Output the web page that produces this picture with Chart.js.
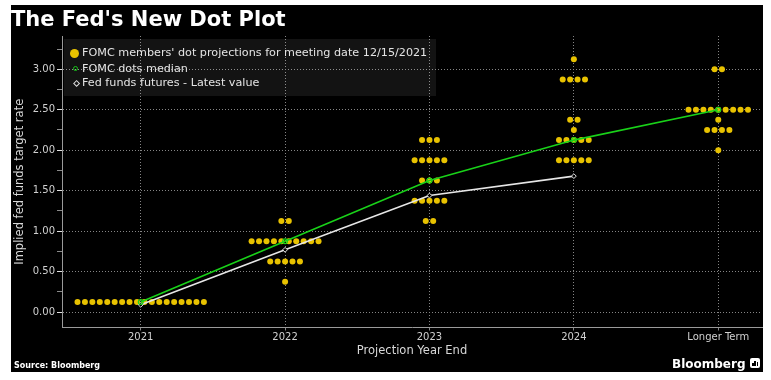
<!DOCTYPE html>
<html><head><meta charset="utf-8">
<script src="https://cdn.jsdelivr.net/npm/chart.js@4.4.1/dist/chart.umd.min.js"></script>
<style>
html,body{margin:0;padding:0;background:#fff;width:771px;height:380px;overflow:hidden;}
#frame{position:absolute;left:11px;top:5px;width:752px;height:367px;background:#000;}
#wrap{position:absolute;left:0;top:0;width:771px;height:380px;}
#title{position:absolute;left:11px;top:9px;font:bold 21px "DejaVu Sans",sans-serif;line-height:21px;color:#fff;white-space:nowrap;}
#legend{position:absolute;left:64px;top:39px;width:372px;height:57px;background:rgba(255,255,255,0.075);}
.row{position:absolute;left:18px;font:11.2px "DejaVu Sans",sans-serif;line-height:14px;color:#e4e4e4;white-space:nowrap;}
.mk{position:absolute;}
#src{position:absolute;left:14px;top:361px;font:bold 8px "DejaVu Sans",sans-serif;line-height:10px;color:#fff;white-space:nowrap;}
#logo{position:absolute;left:672px;top:356px;font:bold 12px "DejaVu Sans",sans-serif;line-height:16px;color:#fff;white-space:nowrap;}
#icon{position:absolute;left:750px;top:358px;width:10px;height:10px;background:#fff;border-radius:2px;}
#icon i{position:absolute;bottom:2px;width:1.5px;background:#000;}
</style>
</head><body>
<div id="frame"></div>
<div id="wrap"><canvas id="c"></canvas></div>
<div id="title">The Fed's New Dot Plot</div>
<div id="legend">
  <div class="mk" style="left:6px;top:9.5px;width:9px;height:9px;border-radius:50%;background:#e8c200;"></div>
  <div class="mk" style="left:8.7px;top:26.5px;width:3.6px;height:3.6px;border-radius:50%;border:1.2px solid #19c419;"></div>
  <div class="mk" style="left:9.6px;top:41.6px;width:3.2px;height:3.2px;transform:rotate(45deg);border:1px solid #ddd;"></div>
  <div class="row" style="top:7px;">FOMC members' dot projections for meeting date 12/15/2021</div>
  <div class="row" style="top:22.5px;">FOMC dots median</div>
  <div class="row" style="top:36.5px;">Fed funds futures - Latest value</div>
</div>
<div id="src">Source: Bloomberg</div>
<div id="logo">Bloomberg</div>
<div id="icon"><i style="left:2px;height:3px"></i><i style="left:4.3px;height:5px"></i><i style="left:6.6px;height:4px"></i></div>
<script>
const categories = ['2021', '2022', '2023', '2024', 'Longer Term'];
// [rate, number of participants]
const dots2021 = [[0.125, 18]];
const dots2022 = [[1.125, 2], [0.875, 10], [0.625, 5], [0.375, 1]];
const dots2023 = [[2.125, 3], [1.875, 5], [1.625, 3], [1.375, 5], [1.125, 2]];
const dots2024 = [[3.125, 1], [2.875, 4], [2.375, 2], [2.25, 1], [2.125, 5], [1.875, 5]];
const dotsLonger = [[3.0, 2], [2.5, 9], [2.375, 1], [2.25, 4], [2.0, 1]];
const dotRows = [dots2021, dots2022, dots2023, dots2024, dotsLonger];
const medians = [0.125, 0.875, 1.625, 2.125, 2.5];
const futures = [0.09, 0.77, 1.44, 1.68];
const yTicks = [0, 0.25, 0.5, 0.75, 1, 1.25, 1.5, 1.75, 2, 2.25, 2.5, 2.75, 3, 3.25];
const yLabeled = [0, 0.5, 1, 1.5, 2, 2.5, 3];

const DOT_GAP = 0.0515;
const dotPoints = [];
dotRows.forEach((rows, ci) => rows.forEach(([rate, n]) => {
  for (let k = 0; k < n; k++) dotPoints.push({x: ci + (k - (n - 1) / 2) * DOT_GAP, y: rate});
}));

const isMajor = v => yLabeled.includes(v);
const F = 'DejaVu Sans';
const GRID = '#858585';

new Chart(document.getElementById('c'), {
  type: 'scatter',
  data: {
    datasets: [
      {data: dotPoints, pointRadius: 3, pointHoverRadius: 3, backgroundColor: '#e8c200', borderWidth: 0, order: 3},
      {data: futures.map((v, i) => ({x: i, y: v})), showLine: true, borderColor: '#e6e6e6', borderWidth: 1.6,
       pointStyle: 'rectRot', pointRadius: 2.4, pointBorderColor: '#e6e6e6', pointBackgroundColor: '#000', pointBorderWidth: 1, order: 2},
      {data: medians.map((v, i) => ({x: i, y: v})), showLine: true, borderColor: '#19d119', borderWidth: 1.6,
       pointStyle: 'circle', pointRadius: 2.4, pointBorderColor: '#19d119', pointBackgroundColor: 'rgba(0,0,0,0)', pointBorderWidth: 1.2, order: 1}
    ]
  },
  options: {
    responsive: true, maintainAspectRatio: false, animation: false, devicePixelRatio: 1,
    layout: {padding: {left: 11, top: 36, right: 9, bottom: 8}},
    plugins: {legend: {display: false}, tooltip: {enabled: false}},
    scales: {
      x: {
        type: 'linear', min: -0.545, max: 4.303,
        afterBuildTicks: s => { s.ticks = categories.map((c, i) => ({value: i})); },
        afterFit: s => { s.height = 44.5; },
        ticks: {callback: v => categories[v] ?? '', autoSkip: false, maxRotation: 0, color: '#d0d0d0',
                font: {family: F, size: 10}, padding: 1},
        grid: {color: GRID, lineWidth: 1, tickLength: 3, tickColor: GRID},
        border: {display: true, color: '#9a9a9a', width: 1, dash: [1, 2]},
        title: {display: true, text: 'Projection Year End', color: '#d8d8d8', font: {family: F, size: 11.5}, padding: {top: 0, bottom: 14}}
      },
      y: {
        type: 'linear', min: -0.19, max: 3.411,
        afterBuildTicks: s => { s.ticks = yTicks.map(v => ({value: v})); },
        afterFit: s => { s.width = 51; },
        ticks: {callback: v => isMajor(v) ? v.toFixed(2) : '', autoSkip: false, color: '#d0d0d0',
                font: {family: F, size: 10}, padding: 2},
        grid: {color: c => (c.tick && isMajor(c.tick.value)) ? GRID : 'rgba(0,0,0,0)', lineWidth: 1, tickLength: 5,
               tickColor: c => (c.tick && isMajor(c.tick.value)) ? '#e0e0e0' : '#8a8a8a'},
        border: {display: true, color: '#9a9a9a', width: 1, dash: [1, 2]},
        title: {display: true, text: 'Implied fed funds target rate', color: '#d8d8d8', font: {family: F, size: 11.5}, padding: {top: 2, bottom: 0}}
      }
    }
  }
});
</script>
</body></html>
